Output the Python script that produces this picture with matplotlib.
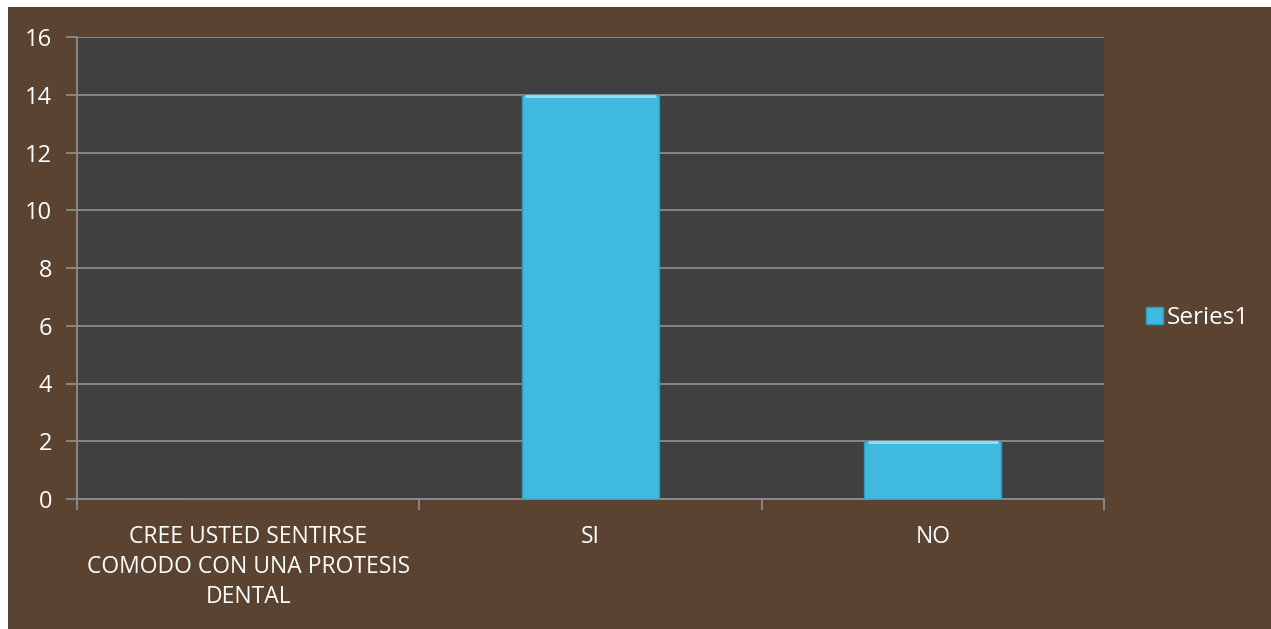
import matplotlib
matplotlib.use("Agg")
import matplotlib.pyplot as plt
from matplotlib.patches import Rectangle

# data
categories = ["CREE USTED SENTIRSE\nCOMODO CON UNA PROTESIS\nDENTAL", "SI", "NO"]
values = [0, 14, 2]
series_name = "Series1"
y_ticks = [0, 2, 4, 6, 8, 10, 12, 14, 16]

plt.rcParams["font.family"] = ["Open Sans", "DejaVu Sans"]

W, H = 1271, 629
fig = plt.figure(figsize=(W / 100, H / 100), dpi=100, facecolor="white")

# brown marble-ish backdrop (white strip on top/left as in reference)
bg = Rectangle((8 / W, 0), 1 - 8 / W + 0.01, 1 - 7 / H, transform=fig.transFigure,
               facecolor="#5b4331", edgecolor="none", zorder=-10)
fig.patches.append(bg)

left, right, top, bottom = 77, 1104, 37, 499
ax = fig.add_axes([left / W, (H - bottom) / H, (right - left) / W, (bottom - top) / H])
ax.set_zorder(1)
ax.set_facecolor("#404040")

x = range(len(categories))
bars = ax.bar(x, values, width=0.4, color="#3fb9de", edgecolor="#2e9cc0",
              linewidth=1.0, zorder=3, label=series_name)
# light bevel on the bar tops
for b, v in zip(bars, values):
    if v > 0:
        ax.plot([b.get_x() + 0.01, b.get_x() + b.get_width() - 0.01], [v - 0.03, v - 0.03],
                color="#8fe3f7", linewidth=2, zorder=4, solid_capstyle="butt")

ax.set_xlim(-0.5, len(categories) - 0.5)
ax.set_ylim(0, 16)
ax.set_yticks(y_ticks)
ax.set_yticklabels([str(t) for t in y_ticks], color="white", fontsize=17)
ax.yaxis.grid(True, color="#8c8c8c", linewidth=1.3, zorder=1)
ax.set_axisbelow(True)

ax.set_xticks(list(x))
ax.set_xticklabels(categories, color="white", fontsize=16.5, linespacing=1.33)
ax.tick_params(axis="x", length=0, pad=19)
ax.tick_params(axis="y", length=8, width=1.3, color="#8c8c8c", pad=10)

# category boundary ticks on x axis
ax.set_xticks([i + 0.5 for i in range(-1, len(categories))], minor=True)
ax.tick_params(axis="x", which="minor", length=8, width=1.3, color="#8c8c8c")

for side in ["top", "right"]:
    ax.spines[side].set_visible(False)
for side in ["left", "bottom"]:
    ax.spines[side].set_color("#8c8c8c")
    ax.spines[side].set_linewidth(1.3)

leg = fig.legend(handles=[bars], labels=[series_name], loc="center left",
                 bbox_to_anchor=(1124 / W, (H - 318) / H), frameon=False,
                 fontsize=17.5, handlelength=0.7, handleheight=0.7, handletextpad=0.15)
for t in leg.get_texts():
    t.set_color("white")

fig.savefig("out.png", dpi=100, facecolor=fig.get_facecolor())
